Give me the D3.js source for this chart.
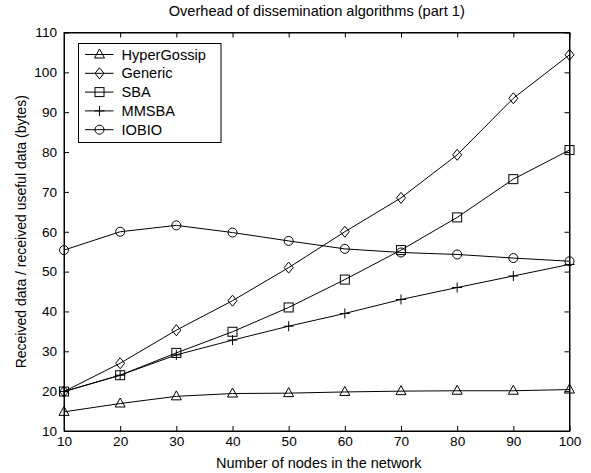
<!DOCTYPE html>
<html>
<head>
<meta charset="utf-8">
<script src="https://cdn.jsdelivr.net/npm/d3@7"></script>
<style>
  body { margin: 0; background: #fff; }
  svg text { font-family: "Liberation Sans", Arial, sans-serif; fill: #000; }
</style>
</head>
<body>
<svg id="chart" width="591" height="473"></svg>
<script>
// === Data ===
const nodes = [10, 20, 30, 40, 50, 60, 70, 80, 90, 100];
const hyperGossip = [14.8, 16.9, 18.7, 19.4, 19.5, 19.8, 20.0, 20.1, 20.1, 20.4];
const generic = [19.9, 27.0, 35.3, 42.7, 51.0, 60.0, 68.5, 79.3, 93.5, 104.4];
const sba = [19.9, 24.0, 29.6, 34.9, 41.0, 48.0, 55.4, 63.6, 73.2, 80.5];
const mmsba = [19.9, 24.0, 29.1, 32.8, 36.3, 39.5, 43.0, 46.0, 48.9, 51.8];
const iobio = [55.4, 60.0, 61.6, 59.8, 57.7, 55.7, 54.8, 54.3, 53.4, 52.6];
const seriesNames = ["HyperGossip", "Generic", "SBA", "MMSBA", "IOBIO"];
const markerTypes = ["triangle", "diamond", "square", "plus", "circle"];
const xTicks = [10, 20, 30, 40, 50, 60, 70, 80, 90, 100];
const yTicks = [10, 20, 30, 40, 50, 60, 70, 80, 90, 100, 110];

(function () {
  const svg = d3.select("#chart");
  const width = +svg.attr("width");
  const height = +svg.attr("height");
  const margin = { top: 32.5, right: 21.5, bottom: 42, left: 64 };
  const innerWidth = width - margin.left - margin.right;
  const innerHeight = height - margin.top - margin.bottom;

  const g = svg.append("g").attr("transform", `translate(${margin.left},${margin.top})`);

  const x = d3.scaleLinear().domain([10, 100]).range([0, innerWidth]);
  const y = d3.scaleLinear().domain([10, 110]).range([innerHeight, 0]);

  const allSeries = [hyperGossip, generic, sba, mmsba, iobio];

  // === Axes (ticks inward on all four sides, MATLAB style) ===
  const tickLen = 5;
  const tickFont = 13.6;

  const bottom = g.append("g")
    .attr("transform", `translate(0,${innerHeight})`)
    .call(d3.axisBottom(x).tickValues(xTicks).tickSizeInner(-tickLen).tickSizeOuter(0).tickPadding(5.5));
  const top = g.append("g")
    .call(d3.axisTop(x).tickValues(xTicks).tickSizeInner(-tickLen).tickSizeOuter(0).tickFormat(""));
  const left = g.append("g")
    .call(d3.axisLeft(y).tickValues(yTicks).tickSizeInner(-tickLen).tickSizeOuter(0).tickPadding(7));
  const right = g.append("g")
    .attr("transform", `translate(${innerWidth},0)`)
    .call(d3.axisRight(y).tickValues(yTicks).tickSizeInner(-tickLen).tickSizeOuter(0).tickFormat(""));

  [bottom, top, left, right].forEach(ax => {
    ax.select(".domain").attr("stroke", "#000").attr("stroke-width", 1);
    ax.selectAll(".tick line").attr("stroke", "#000");
    ax.selectAll("text").attr("font-size", tickFont).attr("font-family", "Liberation Sans, Arial, sans-serif").attr("fill", "#000");
  });

  // box outline
  g.append("rect")
    .attr("width", innerWidth)
    .attr("height", innerHeight)
    .attr("fill", "none")
    .attr("stroke", "#000");

  // === Labels ===
  svg.append("text")
    .attr("x", margin.left + innerWidth / 2)
    .attr("y", 15.5)
    .attr("text-anchor", "middle")
    .attr("font-size", 14.6)
    .text("Overhead of dissemination algorithms (part 1)");

  svg.append("text")
    .attr("x", margin.left + innerWidth / 2 + 2)
    .attr("y", 468)
    .attr("text-anchor", "middle")
    .attr("font-size", 14.5)
    .text("Number of nodes in the network");

  svg.append("text")
    .attr("transform", `translate(26,${margin.top + innerHeight / 2}) rotate(-90)`)
    .attr("text-anchor", "middle")
    .attr("font-size", 14)
    .text("Received data / received useful data (bytes)");

  // === Marker shapes ===
  function marker(sel, type) {
    if (type === "triangle") {
      sel.append("path").attr("d", "M0,-5.5L5,3.5L-5,3.5Z");
    } else if (type === "diamond") {
      sel.append("path").attr("d", "M0,-5.5L4.5,0L0,5.5L-4.5,0Z");
    } else if (type === "square") {
      sel.append("rect").attr("x", -4.5).attr("y", -4.5).attr("width", 9).attr("height", 9);
    } else if (type === "plus") {
      sel.append("path").attr("d", "M-5,0L5,0M0,-5L0,5");
    } else {
      sel.append("circle").attr("r", 4.5);
    }
    sel.selectAll("*").attr("fill", "none").attr("stroke", "#000").attr("stroke-width", 1);
  }

  const line = d3.line()
    .x((d, i) => x(nodes[i]))
    .y(d => y(d));

  allSeries.forEach((vals, si) => {
    g.append("path")
      .datum(vals)
      .attr("fill", "none")
      .attr("stroke", "#000")
      .attr("stroke-width", 1)
      .attr("d", line);

    vals.forEach((v, i) => {
      const m = g.append("g").attr("transform", `translate(${x(nodes[i])},${y(v)})`);
      marker(m, markerTypes[si]);
    });
  });

  // === Legend ===
  const legend = svg.append("g").attr("transform", "translate(78.5,43.5)");
  legend.append("rect")
    .attr("width", 142.5)
    .attr("height", 99)
    .attr("fill", "#fff")
    .attr("stroke", "#000");

  seriesNames.forEach((name, i) => {
    const row = legend.append("g").attr("transform", `translate(0,${11 + i * 18.8})`);
    row.append("line")
      .attr("x1", 6.5).attr("x2", 35)
      .attr("stroke", "#000");
    const m = row.append("g").attr("transform", "translate(21,0)");
    marker(m, markerTypes[i]);
    row.append("text")
      .attr("x", 43)
      .attr("dy", "0.35em")
      .attr("font-size", 14.6)
      .text(name);
  });
})();
</script>
</body>
</html>
